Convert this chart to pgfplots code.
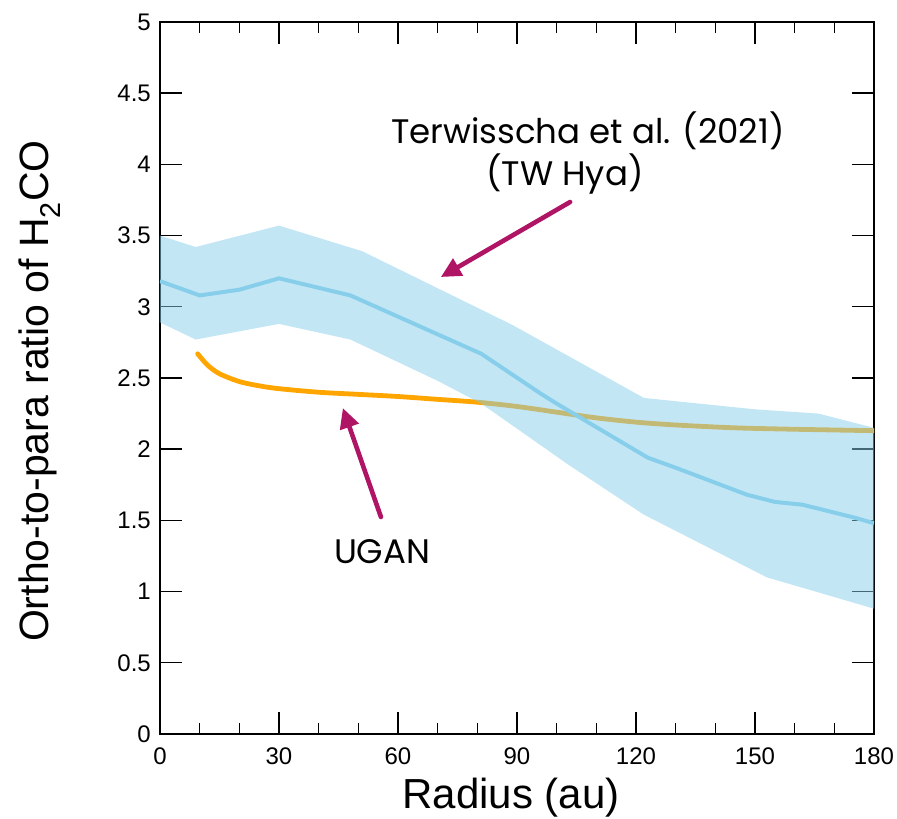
\documentclass[border=0pt]{standalone}
\usepackage{fontspec}
\setmainfont{Liberation Sans}
\newfontfamily\annfont{Poppins}
\usepackage{pgfplots}
\pgfplotsset{compat=1.18}
\usetikzlibrary{arrows.meta}

\definecolor{skyb}{RGB}{135,206,235}
\definecolor{orng}{RGB}{255,165,0}
\definecolor{mag}{RGB}{176,20,100}

\begin{document}
\begin{tikzpicture}
\begin{axis}[
  width=714pt, height=712pt, scale only axis,
  xmin=0, xmax=180, ymin=0, ymax=5,
  xtick={0,30,60,90,120,150,180},
  minor xtick={10,20,40,50,70,80,100,110,130,140,160,170},
  ytick={0,0.5,1,1.5,2,2.5,3,3.5,4,4.5,5},
  yticklabels={0,0.5,1,1.5,2,2.5,3,3.5,4,4.5,5},
  xticklabels={0,30,60,90,120,150,180},
  tick align=inside,
  major tick length=22pt, minor tick length=11pt,
  every tick/.style={black, line width=1.4pt},
  axis line style={black, line width=1.7pt},
  /pgf/number format/assume math mode=true,
  xticklabel style={font=\fontsize{24}{28}\selectfont, anchor=base, inner sep=0pt, yshift=-30pt},
  yticklabel style={font=\fontsize{24}{28}\selectfont, anchor=east, inner sep=0pt, xshift=-9pt},
  xlabel={Radius (au)},
  ylabel={Ortho-to-para ratio of H\textsubscript{2}CO},
  xlabel style={font=\fontsize{42}{48}\selectfont, at={(axis description cs:0.4916,-0.104)}, anchor=base, inner sep=0pt},
  ylabel style={font=\fontsize{41}{48}\selectfont, at={(axis description cs:-0.1555,0.4817)}, anchor=base, inner sep=0pt},
  clip=true,
]
% UGAN model
\addplot[orng, line width=4.8pt, smooth, line cap=round] coordinates {
  (9.5,2.67) (12,2.59) (15,2.53) (20,2.475) (25,2.445) (30,2.425) (40,2.400)
  (50,2.385) (60,2.370) (70,2.350) (80,2.330) (90,2.300) (100,2.260)
  (110,2.220) (120,2.190) (130,2.170) (145,2.150) (160,2.140) (180,2.130)
};
% Terwisscha et al. band
\addplot[fill=skyb, fill opacity=0.5, draw=none] coordinates {
  (0,3.50) (9,3.42) (30,3.57) (51,3.39) (81,2.98) (89,2.87) (122,2.36) (150,2.28) (166,2.25) (180,2.15)
  (180,0.88) (153,1.10) (122,1.54) (103,1.89) (81,2.32) (70,2.48) (48,2.77) (30,2.88) (9,2.77) (0,2.89)
} -- cycle;
% Terwisscha et al. mean
\addplot[skyb, line width=4pt] coordinates {
  (0,3.18) (10,3.08) (20,3.12) (30,3.20) (48,3.08) (81,2.67) (96,2.39) (100,2.32)
  (123,1.94) (130,1.87) (148,1.68) (155,1.63) (162,1.61) (175,1.52) (180,1.48)
};
% annotations
\draw[mag, line width=4.6pt, line cap=round, -{Triangle[length=20pt,width=19pt]}] (axis cs:103.4,3.736) -- (axis cs:70.8,3.209);
\draw[mag, line width=4.6pt, line cap=round, -{Triangle[length=20pt,width=19pt]}] (axis cs:55.7,1.524) -- (axis cs:46.1,2.289);
\node[anchor=base, inner sep=0pt, font=\annfont\fontsize{34}{40}\selectfont] at (axis cs:107.9,4.15) {Terwisscha et al. (2021)};
\node[anchor=base, inner sep=0pt, font=\annfont\fontsize{34}{40}\selectfont] at (axis cs:102.1,3.855) {(TW Hya)};
\node[anchor=base, inner sep=0pt, font=\annfont\fontsize{34}{40}\selectfont] at (axis cs:56.0,1.20) {UGAN};
\coordinate (O) at (rel axis cs:0,0);
\end{axis}
\pgfresetboundingbox
\path[use as bounding box] (O) ++(-160pt,-85pt) rectangle ++(897pt,819pt);
\end{tikzpicture}
\end{document}
